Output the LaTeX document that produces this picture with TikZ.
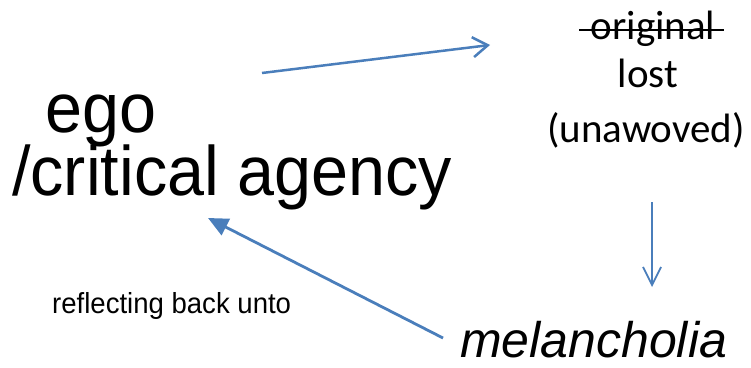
\documentclass[tikz,border=0pt]{standalone}
\usepackage{fontspec}
\setmainfont{Liberation Sans}
\newfontfamily\bigsans[FakeStretch=0.95]{Liberation Sans}
\newfontfamily\calib{Carlito}
\usetikzlibrary{arrows.meta}
\definecolor{arrowblue}{RGB}{74,126,187}
\tikzset{
x=1pt, y=-1pt, % pixel coordinates, y runs downwards
every node/.style={inner sep=0pt}, % text boxes only
bigtext/.style={font=\bigsans\fontsize{70}{70}\selectfont, anchor=base west},
losttext/.style={font=\calib\fontsize{41}{41}\selectfont, anchor=base},
openarrow/.style={arrowblue, line width=2.5pt, -{Straight Barb[length=15pt,width=20pt]}},
downarrow/.style={arrowblue, line width=1.8pt, -{Straight Barb[length=18pt,width=18pt]}},
backarrow/.style={arrowblue, line width=2.8pt, -{Triangle[length=20pt,width=18pt]}},
}

\begin{document}
\begin{tikzpicture}
    \useasboundingbox (0,0) rectangle (751,367);
    \node[bigtext] (ego) at (45,132) {ego};
    \node[bigtext] (agency) at (12,195) {/critical agency};
    \node[losttext] (orig) at (653,39) {original};
    \node[losttext] (lost) at (648,87) {lost};
    \node[losttext] (unawoved) at (646,142) {(unawoved)};
    \node[anchor=base west, font=\bigsans\fontsize{29}{29}\selectfont] (reflect) at (52,313) {reflecting back unto};
    \node[anchor=base west, font=\itshape\fontsize{50}{50}\selectfont] (melan) at (460,357) {melancholia};
    % strike through the first word
    \draw[line width=1.5pt] ([shift={(-11,-9)}]orig.base west) -- ([shift={(8,-9)}]orig.base east);
    % arrow ends
    \coordinate (s1) at (262,73);
    \coordinate (e1) at (490,45);
    \coordinate (s2) at (652,202);
    \coordinate (e2) at (652,287);
    \coordinate (s3) at (443,338);
    \coordinate (e3) at (208,218);
    \draw[openarrow] (s1) -- (e1);
    \draw[downarrow] (s2) -- (e2);
    \draw[backarrow] (s3) -- (e3);
\end{tikzpicture}
\end{document}
